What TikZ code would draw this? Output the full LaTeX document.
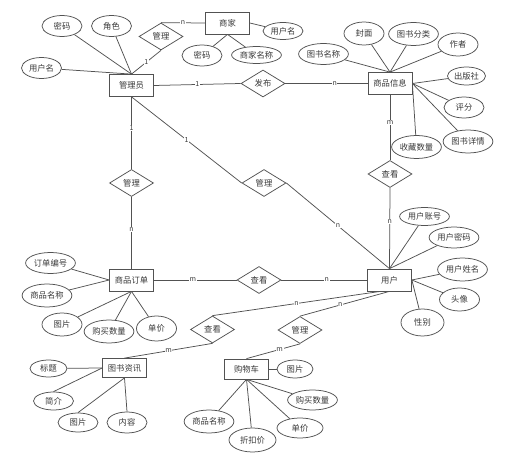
\documentclass[tikz,border=0pt]{standalone}
\usepackage{fontspec}
\setmainfont{Noto Sans CJK SC}
\usetikzlibrary{shapes.geometric}

\tikzset{
  entity/.style={draw, rectangle, minimum width=44pt, minimum height=22pt, inner xsep=5pt},
  attr/.style={draw, ellipse, minimum width=40pt, minimum height=21pt, inner sep=1pt},
  rel/.style={draw, diamond, minimum width=44pt, minimum height=27pt, inner sep=0pt},
  card/.style={fill=white, inner sep=0.6pt, font=\fontsize{7}{8}\selectfont},
}

\begin{document}
\begin{tikzpicture}[x=1pt, y=-1pt, line width=0.75pt, draw=black!68, text=black!78,
    font=\fontsize{8.3}{10}\selectfont]
            \useasboundingbox (0,0) rectangle (509,462);
            % entities
            \node (admin) at (131.5,85.5)[entity]{管理员};
            \node (shop) at (227.5,23)[entity]{商家};
            \node (goods) at (390,83.5)[entity]{商品信息};
            \node (order) at (131.5,280)[entity]{商品订单};
            \node (user) at (389.5,280)[entity]{用户};
            \node (news) at (124.5,368)[entity, minimum height=19pt]{图书资讯};
            \node (cart) at (246.5,369)[entity, minimum height=20pt]{购物车};
            % relations
            \node (mgshop) at (161,36.5)[rel]{管理};
            \node (publish) at (263,83.5)[rel]{发布};
            \node (mgorder) at (131.5,183)[rel]{管理};
            \node (mguser) at (264,183)[rel]{管理};
            \node (seegoods) at (390,174)[rel]{查看};
            \node (seeorder) at (259,280)[rel]{查看};
            \node (seenews) at (212.5,329.5)[rel]{查看};
            \node (mgcart) at (300,330)[rel]{管理};
            % admin attributes
            \node (adpwd) at (62,26)[attr]{密码};
            \node (adrole) at (111.5,26)[attr]{角色};
            \node (adname) at (41.5,68)[attr]{用户名};
            \draw (adpwd) -- (admin.north);
            \draw (adrole) -- (admin.north);
            \draw (adname) -- (admin.north);
            % shop attributes
            \node (shname) at (283,31)[attr, minimum height=17pt]{用户名};
            \node (shpwd) at (202,55.5)[attr]{密码};
            \node (shtitle) at (256.5,55)[attr, minimum height=17pt]{商家名称};
            \draw (shop.east) -- (shname);
            \draw (shop.south) -- (shpwd);
            \draw (shop.south) -- (shtitle);
            % goods attributes
            \node (gdname) at (323.5,54)[attr]{图书名称};
            \node (gdcover) at (364,33.5)[attr, minimum height=23pt]{封面};
            \node (gdtype) at (413.5,34)[attr, minimum height=23pt]{图书分类};
            \node (gdauthor) at (458,44.5)[attr, minimum height=23pt]{作者};
            \node (gdpress) at (466.5,76)[attr, minimum width=35pt, minimum height=18pt]{出版社};
            \node (gdscore) at (464,107.5)[attr]{评分};
            \node (gddetail) at (468,141.5)[attr, minimum height=23pt]{图书详情};
            \node (gdfav) at (416.5,147)[attr, minimum height=23pt]{收藏数量};
            \foreach \a in {gdname,gdcover,gdtype,gdauthor}
                \draw (\a) -- (goods.north);
            \foreach \a in {gdpress,gdscore,gddetail,gdfav}
                \draw (goods.east) -- (\a);
            % user attributes
            \node (usacc) at (424.5,216.5)[attr, minimum height=18pt]{用户账号};
            \node (uspwd) at (454,237.5)[attr]{用户密码};
            \node (usname) at (462.5,269.5)[attr, minimum height=23pt]{用户姓名};
            \node (usavatar) at (459.5,299.5)[attr, minimum height=23pt]{头像};
            \node (ussex) at (422.5,322.5)[attr, minimum width=43pt, minimum height=27pt]{性别};
            \draw (user.north) -- (usacc);
            \draw (user.north) -- (uspwd);
            \foreach \a in {usname,usavatar,ussex}
                \draw (user.east) -- (\a);
            % order attributes
            \node (odno) at (50.5,263)[attr]{订单编号};
            \node (odname) at (47,295.5)[attr, minimum height=23pt]{商品名称};
            \node (odpic) at (62,324.5)[attr, minimum height=23pt]{图片};
            \node (odnum) at (109,331.5)[attr, minimum height=23pt]{购买数量};
            \node (odprice) at (156.5,328.5)[attr, minimum height=25pt]{单价};
            \draw (odno) -- (order.west);
            \draw (odname) -- (order.west);
            \foreach \a in {odpic,odnum,odprice}
                \draw (order.south) -- (\a);
            % news attributes
            \node (nwtitle) at (48.5,368.5)[attr, minimum width=37pt, minimum height=17pt]{标题};
            \node (nwintro) at (53.5,401)[attr, minimum height=18pt]{简介};
            \node (nwpic) at (78,422.5)[attr, minimum height=19pt]{图片};
            \node (nwtext) at (127,422.5)[attr, minimum height=21pt]{内容};
            \draw (nwtitle) -- (news.west);
            \draw (nwintro.north) -- (news.west);
            \draw (news.south) -- (nwpic.north);
            \draw (news.south) -- (nwtext.north);
            % cart attributes
            \node (ctpic) at (295,369)[attr, minimum width=36pt, minimum height=18pt]{图片};
            \node (ctnum) at (312.5,400)[attr, minimum height=20pt]{购买数量};
            \node (ctprice) at (300,428)[attr, minimum width=46pt, minimum height=20pt]{单价};
            \node (ctdisc) at (252.5,440)[attr, minimum width=47pt, minimum height=24pt]{折扣价};
            \node (ctname) at (209,421.5)[attr, minimum height=23pt]{商品名称};
            \draw (cart.east) -- (ctpic);
            \foreach \a in {ctnum,ctprice,ctdisc,ctname}
                \draw (cart.south) -- (\a);
            % relationships
            \draw (admin.north) -- (mgshop.south) node[card, midway]{1};
            \draw (mgshop.north) -- (shop.west) node[card, midway]{n};
            \draw (admin.east) -- (publish.west) node[card, midway]{1};
            \draw (publish.east) -- (goods.west) node[card, pos=0.6]{n};
            \draw (admin.south) -- (mgorder.north) node[card, pos=0.43]{1};
            \draw (mgorder.south) -- (order.north) node[card, pos=0.46]{n};
            \draw (admin.south) -- (mguser.west) node[card, midway]{1};
            \draw (mguser.east) -- (user.north) node[card, midway]{n};
            \draw (goods.south) -- (seegoods.north) node[card, pos=0.43]{m};
            \draw (seegoods.south) -- (user.north) node[card, pos=0.42]{n};
            \draw (order.east) -- (seeorder.west) node[card, pos=0.47]{m};
            \draw (seeorder.east) -- (user.west) node[card, pos=0.53]{n};
            \draw ([xshift=-9pt]user.south) -- (seenews.north) node[card, midway]{n};
            \draw (seenews.south) -- (news.north) node[card, midway]{m};
            \draw (user.south) -- (mgcart.north) node[card, pos=0.55]{n};
            \draw (mgcart.south) -- (cart.north) node[card, pos=0.38]{m};
        \end{tikzpicture}
\end{document}
